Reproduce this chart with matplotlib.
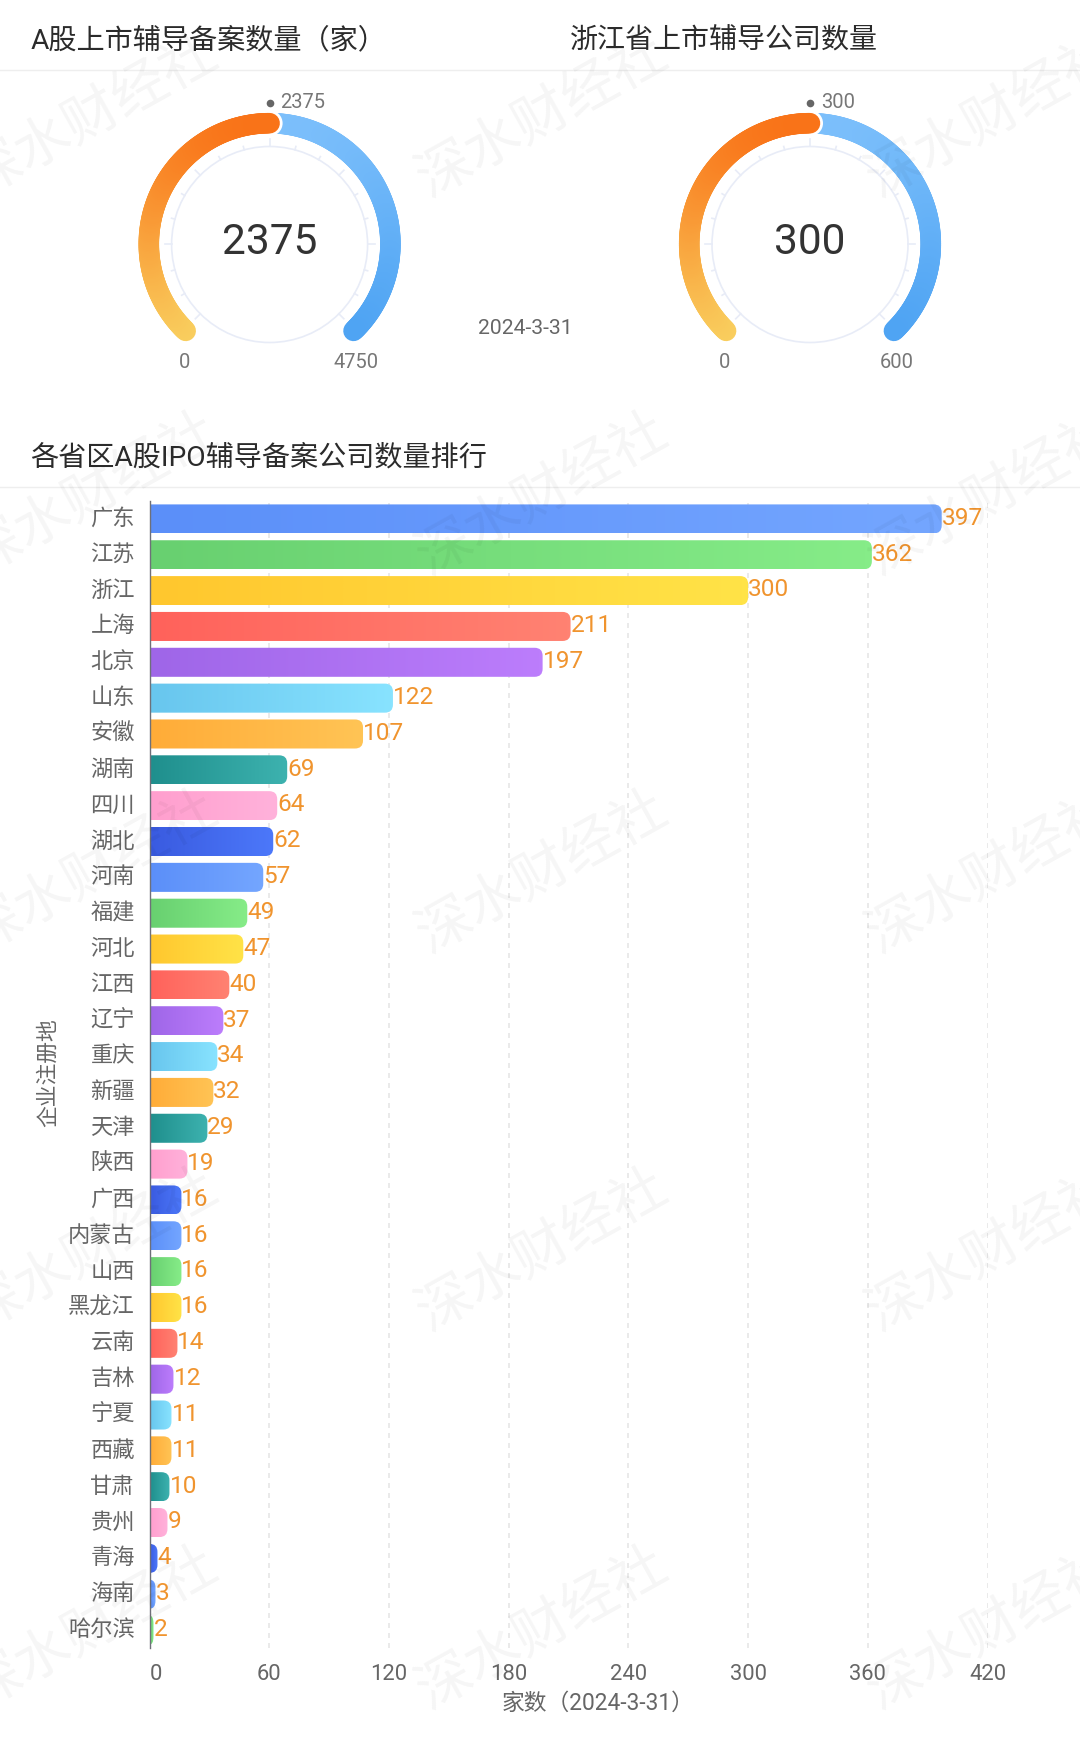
import numpy as np
import matplotlib
matplotlib.use('Agg')
import matplotlib.pyplot as plt
from matplotlib.collections import LineCollection
from matplotlib.colors import LinearSegmentedColormap, to_rgb
from matplotlib.patches import Circle, PathPatch
from matplotlib.path import Path
from matplotlib.transforms import ScaledTranslation

plt.rcParams['font.family'] = ['Roboto', 'Noto Sans CJK SC']

W, H = 1080, 1744

# Data
provinces = ['广东', '江苏', '浙江', '上海', '北京', '山东', '安徽', '湖南', '四川', '湖北', '河南',
             '福建', '河北', '江西', '辽宁', '重庆', '新疆', '天津', '陕西', '广西', '内蒙古', '山西',
             '黑龙江', '云南', '吉林', '宁夏', '西藏', '甘肃', '贵州', '青海', '海南', '哈尔滨']
counts = [397, 362, 300, 211, 197, 122, 107, 69, 64, 62, 57, 49, 47, 40, 37, 34, 32, 29, 19,
          16, 16, 16, 16, 14, 12, 11, 11, 10, 9, 4, 3, 2]
x_ticks = [0, 60, 120, 180, 240, 300, 360, 420]

gauge_titles = ['A股上市辅导备案数量（家）', '浙江省上市辅导公司数量']
gauge_values = [2375, 300]
gauge_maxes = [4750, 600]
gauge_centers = [269.6, 810.0]
gauge_date = '2024-3-31'

bar_colors = [('#5B8FF9', '#74A6FF'), ('#68D070', '#86EC88'), ('#FFC72E', '#FFE347'),
              ('#FF625B', '#FF8272'), ('#9F66E8', '#BC7DFC'), ('#68C6EE', '#88E3FF'),
              ('#FFAC38', '#FFC455'), ('#1F8F8D', '#3DB2AF'), ('#FF9FCE', '#FFB2DB'),
              ('#3A5BE0', '#4C78FA')]

fig = plt.figure(figsize=(W / 100, H / 100), dpi=100, facecolor='white')

# pixel canvas for titles, gauges and rules
bg = fig.add_axes([0, 0, 1, 1])
bg.set_xlim(0, W)
bg.set_ylim(H, 0)
bg.axis('off')

bg.plot([0, W], [70, 70], color='#EEEEEE', lw=1)
bg.plot([0, W], [487, 487], color='#EEEEEE', lw=1)
bg.text(31, 41, gauge_titles[0], fontsize=20.25, color='#2B2B2B', va='center')
bg.text(570, 41, gauge_titles[1], fontsize=20.2, color='#2B2B2B', va='center')
bg.text(30, 458, '各省区A股IPO辅导备案公司数量排行', fontsize=20.25, color='#2B2B2B', va='center')
bg.text(525, 328, gauge_date, fontsize=15.2, color='#666666', ha='center', va='center')


def arc_line(cx, cy, t0, t1, c0, c1):
    # gradient arc as many short round capped pieces, colour runs along the height
    cy_r = 120.8
    t = np.radians(np.linspace(t0, t1, 160))
    xs = cx + cy_r * np.cos(t)
    ys = cy - cy_r * np.sin(t)
    pts = np.column_stack([xs, ys])
    segs = np.stack([pts[:-1], pts[1:]], axis=1)
    frac = (ys[:-1] - ys.min()) / (ys.max() - ys.min())
    c0, c1 = np.array(to_rgb(c0)), np.array(to_rgb(c1))
    cols = c0 + (c1 - c0) * frac[:, None]
    bg.add_collection(LineCollection(segs, colors=cols, linewidths=14.8, capstyle='round', zorder=4))


def draw_gauge(cx, value, vmax):
    cy = 244
    start, end = 226, -46
    ang = start + (end - start) * value / vmax
    # inner scale ring and ticks
    bg.add_patch(Circle((cx, cy + 0.5), 98, fc='none', ec='#E8ECF7', lw=1.2, zorder=2))
    for k, a in enumerate(np.arange(225, -46, -15)):
        r = np.radians(a)
        outer = 105 if k % 3 == 0 else 101.5
        bg.plot([cx + 98 * np.cos(r), cx + outer * np.cos(r)],
                [cy + 0.5 - 98 * np.sin(r), cy + 0.5 - outer * np.sin(r)],
                color='#E8ECF7', lw=1.2, zorder=2)
    arc_line(cx, cy, ang, end, '#7CBFFB', '#4FA4F3')
    r = np.radians(ang)
    bg.add_patch(Circle((cx + 120.8 * np.cos(r), cy - 120.8 * np.sin(r)), 13, fc='white', ec='none', zorder=4))
    arc_line(cx, cy, start, ang, '#F97318', '#F9CE5E')
    bg.text(cx, 243, str(value), fontsize=30.5, color='#333333', ha='center', va='center', zorder=5)
    bg.plot([cx], [103], 'o', ms=5.5, color='#666666', mec='none', zorder=5)
    bg.text(cx + 11, 102, str(value), fontsize=14.5, color='#777777', va='center', zorder=5)
    bg.text(cx - 85.5, 363, '0', fontsize=14.5, color='#777777', ha='center', va='center', zorder=5)
    bg.text(cx + 86.5, 363, str(vmax), fontsize=14.5, color='#777777', ha='center', va='center', zorder=5)


for c, v, m in zip(gauge_centers, gauge_values, gauge_maxes):
    draw_gauge(c, v, m)

# ranking bars
left, right, top, bottom = 149.5, 987.6, 501, 1648
ax = fig.add_axes([left / W, 1 - bottom / H, (right - left) / W, (bottom - top) / H])
ax.patch.set_alpha(0)
y = np.arange(len(provinces))
bars = ax.barh(y, counts, height=0.81, color='none')
ax.set_xlim(0, 420)
ax.set_ylim(len(provinces) - 0.5, -0.5)
x_unit = (right - left) / 420
y_unit = (bottom - top) / len(provinces)

for i, (bar, v) in enumerate(zip(bars, counts)):
    c0, c1 = bar_colors[i % len(bar_colors)]
    x0, y0 = bar.get_x(), bar.get_y()
    x1, y1 = x0 + bar.get_width(), y0 + bar.get_height()
    rx = min(8 / x_unit, x1)
    ry = 8 / y_unit
    verts = [(x0, y0), (x1 - rx, y0), (x1, y0), (x1, y0 + ry), (x1, y1 - ry), (x1, y1), (x1 - rx, y1),
             (x0, y1), (x0, y0)]
    codes = [Path.MOVETO, Path.LINETO, Path.CURVE3, Path.CURVE3, Path.LINETO, Path.CURVE3, Path.CURVE3,
             Path.LINETO, Path.CLOSEPOLY]
    clip = PathPatch(Path(verts, codes), fc='none', ec='none', transform=ax.transData)
    ax.add_patch(clip)
    cmap = LinearSegmentedColormap.from_list('bar%d' % i, [c0, c1])
    im = ax.imshow(np.linspace(0, 1, 64).reshape(1, -1), cmap=cmap, extent=(x0, x1, y1, y0),
                   aspect='auto', interpolation='bilinear', zorder=3)
    im.set_clip_path(clip)
    ax.annotate(str(v), (x1, i), xytext=(0, 0.5), textcoords='offset points', fontsize=17.6,
                color='#F0942E', va='center', ha='left', zorder=4, annotation_clip=False)

ax.set_xlim(0, 420)
ax.set_ylim(len(provinces) - 0.5, -0.5)
ax.set_xticks(x_ticks)
ax.set_xticklabels([str(t) for t in x_ticks])
ax.set_yticks(y)
ax.set_yticklabels(provinces)
ax.tick_params(axis='x', length=0, pad=11.5, labelsize=15.8, labelcolor='#666666')
ax.tick_params(axis='y', length=0, pad=10.5, labelsize=16, labelcolor='#666666')
ax.get_xticklabels()[0].set_ha('left')
# CJK labels sit a little low, lift them
lift = ScaledTranslation(0, 2 / 100, fig.dpi_scale_trans)
for lab in ax.get_yticklabels():
    lab.set_transform(lab.get_transform() + lift)
ax.grid(axis='x', color='#E6E6E6', lw=1.2, ls=(0, (3, 3)), zorder=0)
ax.set_axisbelow(True)
for s in ['top', 'right', 'bottom']:
    ax.spines[s].set_visible(False)
ax.spines['left'].set_color('#6E7079')
ax.spines['left'].set_linewidth(1)
ax.spines['left'].set_zorder(5)

ax.set_xlabel('家数（2024-3-31）', fontsize=16.4, color='#666666')
ax.xaxis.set_label_coords((598 - left) / (right - left), 1 - (1692 - top) / (bottom - top))
ax.set_ylabel('企业注册地', fontsize=15.7, color='#666666')
ax.yaxis.set_label_coords((59 - left) / (right - left), 1 - (1073 - top) / (bottom - top))

# watermark on top of everything
for wy in [117, 495, 873, 1251, 1629]:
    for wx in [93, 543, 993]:
        fig.text(wx / W, 1 - wy / H, '深水财经社', fontsize=40, color='black', alpha=0.038,
                 rotation=29, rotation_mode='anchor', ha='center', va='center', zorder=20)

fig.savefig('out.png', dpi=100)
